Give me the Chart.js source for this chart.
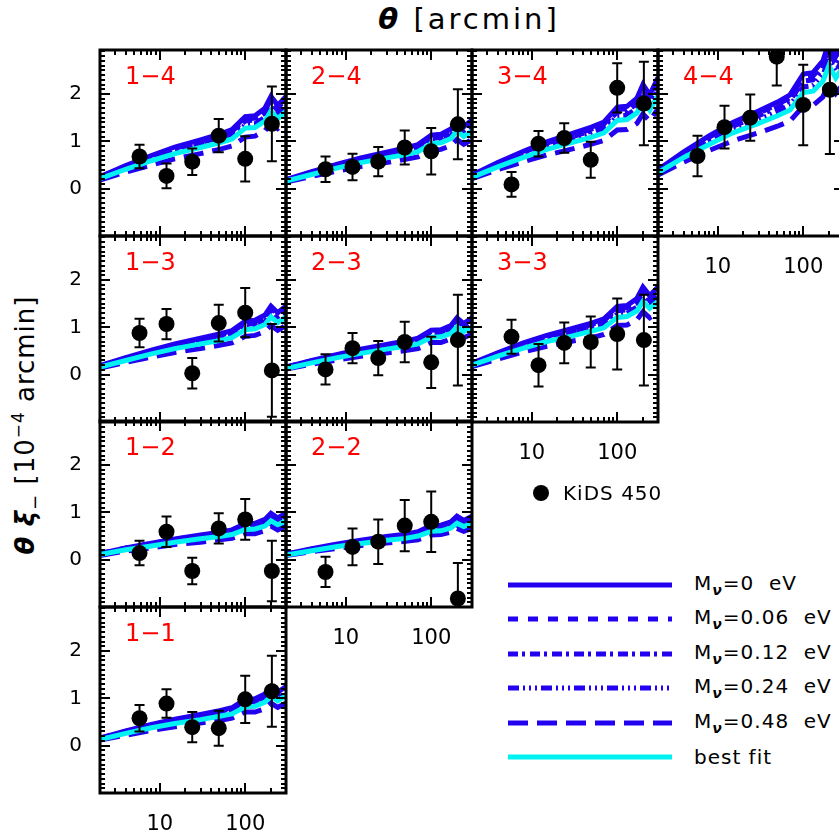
<!DOCTYPE html>
<html>
<head>
<meta charset="utf-8">
<script src="https://cdn.jsdelivr.net/npm/chart.js@4"></script>
<style>
  body { margin: 0; width: 839px; height: 839px; overflow: hidden; background: #fff; position: relative; font-family: 'DejaVu Sans', sans-serif; }
  canvas { position: absolute; }
  .txt { position: absolute; white-space: nowrap; color: #000; line-height: 1; }
  sub { font-size: 0.7em; vertical-align: -0.35em; }
  sup { font-size: 0.65em; vertical-align: 0.6em; }
</style>
</head>
<body>
<div class="txt" id="xTitle" style="left:469px; top:19px; font-size:29px; letter-spacing:3px; transform:translate(-50%,-50%);"><b><i>θ</i></b> [arcmin]</div>
<div class="txt" id="yTitle" style="left:27px; top:425px; font-size:26px; letter-spacing:1px; transform:translate(-50%,-50%) rotate(-90deg);"><b><i>θ</i></b> <b><i>ξ</i></b><sub>−</sub> [10<sup>−4</sup> arcmin]</div>
<canvas id="legendLines" width="180" height="300" style="left:500px; top:470px;"></canvas>
<div id="legendText"></div>
<script>
'use strict';

//x grid of the model curves and of the KiDS points [arcmin]
let thetaModel = [2, 4, 8, 15, 30, 50, 70, 100, 130, 170, 200, 240, 300];
let thetaData = [5.8, 12, 24, 49, 100, 205];
let xTickValues = [10, 100];
let yTickValues = [0, 1, 2];

//tomographic bin pairs, in the order of the rows below
let binLabels = ['1−4', '2−4', '3−4', '4−4', '1−3', '2−3', '3−3', '1−2', '2−2', '1−1'];

//KiDS 450 measurements
let kidsY = [
  [0.68, 0.27, 0.57, 1.12, 0.63, 1.37],
  [0.41, 0.46, 0.57, 0.87, 0.79, 1.36],
  [0.09, 0.95, 1.07, 0.61, 2.13, 1.80],
  [0.69, 1.30, 1.50, 2.79, 1.77, 2.09],
  [0.88, 1.07, 0.03, 1.09, 1.31, 0.09],
  [0.11, 0.56, 0.35, 0.69, 0.26, 0.73],
  [0.80, 0.20, 0.67, 0.69, 0.86, 0.73],
  [0.14, 0.59, -0.24, 0.66, 0.85, -0.24],
  [-0.26, 0.27, 0.38, 0.72, 0.80, -0.82],
  [0.58, 0.89, 0.39, 0.37, 0.98, 1.15]
];
let kidsErr = [
  [0.25, 0.26, 0.28, 0.35, 0.48, 0.79],
  [0.27, 0.28, 0.31, 0.36, 0.49, 0.74],
  [0.26, 0.27, 0.31, 0.38, 0.52, 0.88],
  [0.43, 0.45, 0.49, 0.61, 0.85, 1.36],
  [0.30, 0.32, 0.32, 0.39, 0.52, 0.98],
  [0.32, 0.32, 0.36, 0.43, 0.54, 0.96],
  [0.36, 0.45, 0.43, 0.54, 0.75, 0.96],
  [0.26, 0.32, 0.28, 0.32, 0.43, 0.64],
  [0.32, 0.39, 0.47, 0.54, 0.64, 0.75],
  [0.28, 0.30, 0.32, 0.37, 0.50, 0.75]
];

//model curves, one row per bin pair
let m000 = [
  [0.25, 0.49, 0.70, 0.88, 1.03, 1.15, 1.25, 1.52, 1.54, 1.70, 1.95, 1.76, 1.95],
  [0.19, 0.36, 0.52, 0.65, 0.77, 0.86, 0.93, 1.13, 1.15, 1.26, 1.45, 1.31, 1.45],
  [0.29, 0.55, 0.79, 0.99, 1.17, 1.30, 1.41, 1.72, 1.74, 1.91, 2.20, 1.98, 2.35],
  [0.40, 0.78, 1.12, 1.40, 1.64, 1.83, 1.98, 2.42, 2.45, 2.70, 3.10, 2.79, 3.10],
  [0.19, 0.36, 0.52, 0.65, 0.77, 0.86, 0.93, 1.13, 1.15, 1.26, 1.45, 1.31, 1.45],
  [0.16, 0.30, 0.43, 0.54, 0.64, 0.71, 0.77, 0.94, 0.95, 1.04, 1.20, 1.08, 1.20],
  [0.24, 0.46, 0.67, 0.83, 0.98, 1.09, 1.18, 1.44, 1.46, 1.61, 1.85, 1.67, 1.85],
  [0.13, 0.25, 0.35, 0.44, 0.52, 0.58, 0.63, 0.76, 0.77, 0.85, 0.98, 0.88, 0.98],
  [0.12, 0.23, 0.33, 0.41, 0.49, 0.54, 0.59, 0.72, 0.73, 0.80, 0.92, 0.83, 0.92],
  [0.16, 0.31, 0.45, 0.56, 0.66, 0.74, 0.80, 0.98, 0.99, 1.09, 1.25, 1.13, 1.25]
];
let m006 = [
  [0.24, 0.48, 0.68, 0.85, 1.00, 1.12, 1.21, 1.47, 1.49, 1.65, 1.89, 1.71, 1.89],
  [0.18, 0.35, 0.50, 0.63, 0.75, 0.83, 0.90, 1.10, 1.12, 1.22, 1.41, 1.27, 1.41],
  [0.28, 0.53, 0.77, 0.96, 1.13, 1.26, 1.37, 1.67, 1.69, 1.85, 2.13, 1.92, 2.28],
  [0.39, 0.76, 1.09, 1.36, 1.59, 1.78, 1.92, 2.35, 2.38, 2.62, 3.01, 2.71, 3.01],
  [0.18, 0.35, 0.50, 0.63, 0.75, 0.83, 0.90, 1.10, 1.12, 1.22, 1.41, 1.27, 1.41],
  [0.16, 0.29, 0.42, 0.52, 0.62, 0.69, 0.75, 0.91, 0.92, 1.01, 1.16, 1.05, 1.16],
  [0.23, 0.45, 0.65, 0.81, 0.95, 1.06, 1.14, 1.40, 1.42, 1.56, 1.79, 1.62, 1.79],
  [0.13, 0.24, 0.34, 0.43, 0.50, 0.56, 0.61, 0.74, 0.75, 0.82, 0.95, 0.85, 0.95],
  [0.12, 0.22, 0.32, 0.40, 0.48, 0.52, 0.57, 0.70, 0.71, 0.78, 0.89, 0.81, 0.89],
  [0.16, 0.30, 0.44, 0.54, 0.64, 0.72, 0.78, 0.95, 0.96, 1.06, 1.21, 1.10, 1.21]
];
let m012 = [
  [0.24, 0.46, 0.66, 0.83, 0.97, 1.08, 1.18, 1.43, 1.45, 1.60, 1.83, 1.65, 1.83],
  [0.18, 0.34, 0.49, 0.61, 0.72, 0.81, 0.87, 1.06, 1.08, 1.18, 1.36, 1.23, 1.36],
  [0.27, 0.52, 0.74, 0.93, 1.10, 1.22, 1.33, 1.62, 1.64, 1.80, 2.07, 1.86, 2.21],
  [0.38, 0.73, 1.05, 1.32, 1.54, 1.72, 1.86, 2.27, 2.30, 2.54, 2.91, 2.62, 2.91],
  [0.18, 0.34, 0.49, 0.61, 0.72, 0.81, 0.87, 1.06, 1.08, 1.18, 1.36, 1.23, 1.36],
  [0.15, 0.28, 0.40, 0.51, 0.60, 0.67, 0.72, 0.88, 0.89, 0.98, 1.13, 1.02, 1.13],
  [0.23, 0.43, 0.63, 0.78, 0.92, 1.02, 1.11, 1.35, 1.37, 1.51, 1.74, 1.57, 1.74],
  [0.12, 0.24, 0.33, 0.41, 0.49, 0.55, 0.59, 0.71, 0.72, 0.80, 0.92, 0.83, 0.92],
  [0.11, 0.22, 0.31, 0.39, 0.46, 0.51, 0.55, 0.68, 0.69, 0.75, 0.86, 0.78, 0.86],
  [0.15, 0.29, 0.42, 0.53, 0.62, 0.70, 0.75, 0.92, 0.93, 1.02, 1.18, 1.06, 1.18]
];
let m024 = [
  [0.22, 0.44, 0.62, 0.78, 0.92, 1.02, 1.11, 1.35, 1.37, 1.51, 1.74, 1.57, 1.74],
  [0.17, 0.32, 0.46, 0.58, 0.69, 0.77, 0.83, 1.01, 1.02, 1.12, 1.29, 1.17, 1.29],
  [0.26, 0.49, 0.70, 0.88, 1.04, 1.16, 1.25, 1.53, 1.55, 1.70, 1.96, 1.76, 2.09],
  [0.36, 0.69, 1.00, 1.25, 1.46, 1.63, 1.76, 2.15, 2.18, 2.40, 2.76, 2.48, 2.76],
  [0.17, 0.32, 0.46, 0.58, 0.69, 0.77, 0.83, 1.01, 1.02, 1.12, 1.29, 1.17, 1.29],
  [0.14, 0.27, 0.38, 0.48, 0.57, 0.63, 0.69, 0.84, 0.85, 0.93, 1.07, 0.96, 1.07],
  [0.21, 0.41, 0.60, 0.74, 0.87, 0.97, 1.05, 1.28, 1.30, 1.43, 1.65, 1.49, 1.65],
  [0.12, 0.22, 0.31, 0.39, 0.46, 0.52, 0.56, 0.68, 0.69, 0.76, 0.87, 0.78, 0.87],
  [0.11, 0.20, 0.29, 0.36, 0.44, 0.48, 0.53, 0.64, 0.65, 0.71, 0.82, 0.74, 0.82],
  [0.14, 0.28, 0.40, 0.50, 0.59, 0.66, 0.71, 0.87, 0.88, 0.97, 1.11, 1.01, 1.11]
];
let m048 = [
  [0.18, 0.35, 0.50, 0.63, 0.74, 0.83, 0.90, 1.09, 1.11, 1.22, 1.40, 1.27, 1.40],
  [0.14, 0.26, 0.37, 0.47, 0.55, 0.62, 0.67, 0.81, 0.83, 0.91, 1.04, 0.94, 1.04],
  [0.21, 0.40, 0.57, 0.71, 0.84, 0.94, 1.02, 1.24, 1.25, 1.38, 1.58, 1.43, 1.69],
  [0.29, 0.56, 0.81, 1.01, 1.18, 1.32, 1.43, 1.74, 1.76, 1.94, 2.23, 2.01, 2.23],
  [0.14, 0.26, 0.37, 0.47, 0.55, 0.62, 0.67, 0.81, 0.83, 0.91, 1.04, 0.94, 1.04],
  [0.12, 0.22, 0.31, 0.39, 0.46, 0.51, 0.55, 0.68, 0.68, 0.75, 0.86, 0.78, 0.86],
  [0.17, 0.33, 0.48, 0.60, 0.71, 0.78, 0.85, 1.04, 1.05, 1.16, 1.33, 1.20, 1.33],
  [0.09, 0.18, 0.25, 0.32, 0.37, 0.42, 0.45, 0.55, 0.55, 0.61, 0.71, 0.63, 0.71],
  [0.09, 0.17, 0.24, 0.30, 0.35, 0.39, 0.42, 0.52, 0.53, 0.58, 0.66, 0.60, 0.66],
  [0.12, 0.22, 0.32, 0.40, 0.48, 0.53, 0.58, 0.71, 0.71, 0.78, 0.90, 0.81, 0.90]
];
let bestFit = [
  [0.21, 0.41, 0.59, 0.74, 0.87, 0.97, 1.05, 1.28, 1.29, 1.43, 1.64, 1.48, 1.64],
  [0.16, 0.30, 0.44, 0.55, 0.65, 0.72, 0.78, 0.95, 0.97, 1.06, 1.22, 1.10, 1.22],
  [0.24, 0.46, 0.66, 0.83, 0.98, 1.09, 1.18, 1.44, 1.46, 1.60, 1.85, 1.66, 1.97],
  [0.34, 0.66, 0.94, 1.18, 1.38, 1.54, 1.66, 2.03, 2.06, 2.27, 2.60, 2.34, 2.60],
  [0.16, 0.30, 0.44, 0.55, 0.65, 0.72, 0.78, 0.95, 0.97, 1.06, 1.22, 1.10, 1.22],
  [0.13, 0.25, 0.36, 0.45, 0.54, 0.60, 0.65, 0.79, 0.80, 0.87, 1.01, 0.91, 1.01],
  [0.20, 0.39, 0.56, 0.70, 0.82, 0.92, 0.99, 1.21, 1.23, 1.35, 1.55, 1.40, 1.55],
  [0.11, 0.21, 0.29, 0.37, 0.44, 0.49, 0.53, 0.64, 0.65, 0.71, 0.82, 0.74, 0.82],
  [0.10, 0.19, 0.28, 0.34, 0.41, 0.45, 0.50, 0.60, 0.61, 0.67, 0.77, 0.70, 0.77],
  [0.13, 0.26, 0.38, 0.47, 0.55, 0.62, 0.67, 0.82, 0.83, 0.92, 1.05, 0.95, 1.05]
];

let modelNames = ['0 eV', '0.06 eV', '0.12 eV', '0.24 eV', '0.48 eV', 'best fit'];
let modelValues = [m000, m006, m012, m024, m048, bestFit];
let modelDash = [[], [10, 10], [10, 4, 3, 5], [11, 4, 2, 4, 2, 4, 2, 4], [20, 9], []];
let modelColor = ['#2200f0', '#2200f0', '#2200f0', '#2200f0', '#2200f0', '#00f2f2'];
let modelOrder = [5, 4, 3, 2, 6, 1];

//inward ticks, thick frame and the bin label
let framePlugin = {
  id: 'frame',
  afterDraw(chart) {
    let ctx = chart.ctx;
    let a = chart.chartArea;
    let xs = chart.scales.x;
    let ys = chart.scales.y;
    ctx.save();
    ctx.strokeStyle = '#000';
    ctx.lineWidth = 2;
    ctx.beginPath();
    for (let d = 1; d <= 100; d *= 10) {
      for (let k = 1; k < 10; k++) {
        let v = d * k;
        if (v < 2 || v > 300) continue;
        let px = Math.round(xs.getPixelForValue(v));
        let len = k === 1 ? 10 : 5;
        ctx.moveTo(px, a.bottom); ctx.lineTo(px, a.bottom - len);
        ctx.moveTo(px, a.top); ctx.lineTo(px, a.top + len);
      }
    }
    for (let t = -10; t <= 29; t++) {
      let py = Math.round(ys.getPixelForValue(t / 10));
      let len = t % 10 === 0 ? 10 : 5;
      ctx.moveTo(a.left, py); ctx.lineTo(a.left + len, py);
      ctx.moveTo(a.right, py); ctx.lineTo(a.right - len, py);
    }
    ctx.stroke();
    ctx.lineWidth = 3;
    ctx.strokeRect(a.left, a.top, a.right - a.left, a.bottom - a.top);
    ctx.fillStyle = '#ff0000';
    ctx.font = '24px "DejaVu Sans"';
    ctx.textBaseline = 'middle';
    ctx.fillText(chart.options.plugins.frame.label, a.left + 25, a.top + 28);
    ctx.restore();
  }
};

//vertical error bars under the KiDS points
let errorBarPlugin = {
  id: 'errorBars',
  beforeDatasetDraw(chart, args) {
    let ds = chart.data.datasets[args.index];
    if (!ds.errors) return;
    let ctx = chart.ctx;
    let a = chart.chartArea;
    let xs = chart.scales.x;
    let ys = chart.scales.y;
    ctx.save();
    ctx.beginPath();
    ctx.rect(a.left, a.top, a.right - a.left, a.bottom - a.top);
    ctx.clip();
    ctx.strokeStyle = '#000';
    ctx.lineWidth = 2;
    ctx.beginPath();
    ds.data.forEach((pt, n) => {
      let px = xs.getPixelForValue(pt.x);
      let top = ys.getPixelForValue(pt.y + ds.errors[n]);
      let bot = ys.getPixelForValue(pt.y - ds.errors[n]);
      ctx.moveTo(px, top); ctx.lineTo(px, bot);
      ctx.moveTo(px - 5, top); ctx.lineTo(px + 5, top);
      ctx.moveTo(px - 5, bot); ctx.lineTo(px + 5, bot);
    });
    ctx.stroke();
    ctx.restore();
  }
};

let colLeft = [100, 286, 472, 658];
let rowTop = [50, 236, 421, 607];
let panelW = 186;
let panelH = 186;
let pad = 30;

function noPadding(s) {
  s.paddingTop = 0;
  s.paddingBottom = 0;
  s.paddingLeft = 0;
  s.paddingRight = 0;
}

function makePanel(p) {
  let parts = binLabels[p].split('−').map(Number);
  let col = parts[0] - 1;
  let row = 4 - parts[1];
  let showX = parts[0] === parts[1];
  let showY = col === 0;

  let canvas = document.createElement('canvas');
  canvas.width = panelW + 50 + pad;
  canvas.height = panelH + 50 + pad;
  canvas.style.left = (colLeft[col] - 50) + 'px';
  canvas.style.top = (rowTop[row] - pad) + 'px';
  document.body.appendChild(canvas);

  let datasets = [];
  for (let k = 0; k < modelNames.length; k++) {
    datasets.push({
      type: 'line',
      label: modelNames[k],
      data: thetaModel.map((t, n) => ({x: t, y: modelValues[k][p][n]})),
      borderColor: modelColor[k],
      borderWidth: 5,
      borderDash: modelDash[k],
      pointRadius: 0,
      tension: 0,
      clip: 0,
      order: modelOrder[k]
    });
  }
  datasets.push({
    type: 'scatter',
    label: 'KiDS 450',
    data: thetaData.map((t, n) => ({x: t, y: kidsY[p][n]})),
    errors: kidsErr[p],
    pointRadius: 8,
    pointBackgroundColor: '#000',
    pointBorderWidth: 0,
    clip: 0,
    order: 0
  });

  new Chart(canvas, {
    type: 'line',
    data: {datasets: datasets},
    options: {
      responsive: false,
      animation: false,
      devicePixelRatio: 1,
      events: [],
      layout: {
        autoPadding: false,
        padding: {left: showY ? 10 : 50, top: pad, right: pad, bottom: showX ? 5 : 50}
      },
      plugins: {
        legend: {display: false},
        tooltip: {enabled: false},
        frame: {label: binLabels[p]}
      },
      scales: {
        x: {
          type: 'logarithmic',
          min: 2,
          max: 300,
          display: showX,
          grid: {display: false},
          border: {display: false},
          afterBuildTicks: s => { s.ticks = xTickValues.map(v => ({value: v})); },
          afterFit: s => { s.height = showX ? 45 : 0; noPadding(s); },
          ticks: {
            autoSkip: false,
            maxRotation: 0,
            padding: 11,
            color: '#000',
            font: {family: 'DejaVu Sans', size: 21},
            callback: v => String(v)
          }
        },
        y: {
          type: 'linear',
          min: -1,
          max: 2.93,
          display: showY,
          grid: {display: false},
          border: {display: false},
          afterBuildTicks: s => { s.ticks = yTickValues.map(v => ({value: v})); },
          afterFit: s => { s.width = showY ? 40 : 0; noPadding(s); },
          ticks: {
            padding: 10,
            color: '#000',
            font: {family: 'DejaVu Sans', size: 20},
            callback: v => String(v)
          }
        }
      }
    },
    plugins: [framePlugin, errorBarPlugin]
  });
}

for (let p = 0; p < binLabels.length; p++) {
  makePanel(p);
}

//legend
let lg = document.getElementById('legendLines').getContext('2d');
lg.fillStyle = '#000';
lg.beginPath();
lg.arc(41, 23, 8, 0, Math.PI * 2);
lg.fill();
let legendRows = [115, 149, 184, 218, 253, 287];
let legendText = document.getElementById('legendText');
let kidsLabel = document.createElement('div');
kidsLabel.className = 'txt';
kidsLabel.style.cssText = 'left:563px; top:493px; font-size:20px; letter-spacing:1px; transform:translateY(-50%);';
kidsLabel.textContent = 'KiDS 450';
legendText.appendChild(kidsLabel);
for (let k = 0; k < modelNames.length; k++) {
  lg.strokeStyle = modelColor[k];
  lg.lineWidth = 5;
  lg.setLineDash(modelDash[k]);
  lg.beginPath();
  lg.moveTo(8, legendRows[k]);
  lg.lineTo(172, legendRows[k]);
  lg.stroke();
  let d = document.createElement('div');
  d.className = 'txt';
  d.style.cssText = 'left:694px; top:' + (470 + legendRows[k]) + 'px; font-size:20px; letter-spacing:1px; transform:translateY(-50%);';
  if (modelNames[k] === 'best fit') {
    d.textContent = 'best fit';
  } else {
    let val = modelNames[k].replace(' eV', '');
    d.innerHTML = 'M<sub><b><i>ν</i></b></sub>=' + val + '&nbsp; eV';
  }
  legendText.appendChild(d);
}
</script>
</body>
</html>
